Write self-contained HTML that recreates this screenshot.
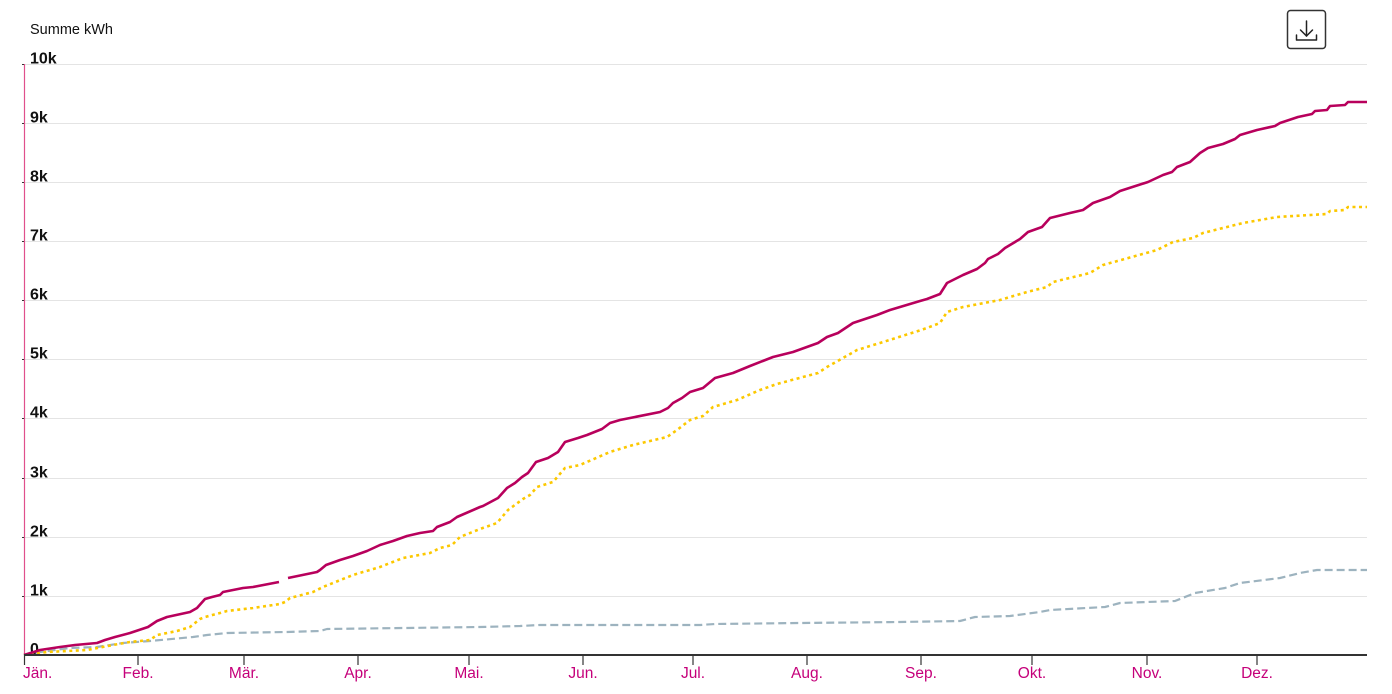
<!DOCTYPE html>
<html>
<head>
<meta charset="utf-8">
<style>
  html,body{margin:0;padding:0;background:#fff;}
  body{width:1392px;height:694px;overflow:hidden;font-family:"Liberation Sans",sans-serif;}
  svg{display:block;}
</style>
</head>
<body>
<svg width="1392" height="694" viewBox="0 0 1392 694" xmlns="http://www.w3.org/2000/svg">
  <!-- title -->
  <text x="30" y="34" font-family="Liberation Sans, sans-serif" font-size="14.5" fill="#111">Summe kWh</text>

  <!-- download button -->
  <rect x="1287.5" y="10.5" width="38" height="38" rx="3" ry="3" fill="#fff" stroke="#333" stroke-width="1.5"/>
  <g fill="none" stroke="#222" stroke-width="1.5" stroke-linecap="round" stroke-linejoin="round">
    <line x1="1306.5" y1="21" x2="1306.5" y2="36"/>
    <polyline points="1300.5,30 1306.5,36 1312.5,30"/>
    <polyline points="1296.5,35 1296.5,40 1316.5,40 1316.5,35"/>
  </g>

  <!-- grid -->
  <g stroke="#e4e4e4" stroke-width="1">
    <line x1="24" y1="64.5" x2="1367" y2="64.5"/>
    <line x1="24" y1="123.5" x2="1367" y2="123.5"/>
    <line x1="24" y1="182.5" x2="1367" y2="182.5"/>
    <line x1="24" y1="241.5" x2="1367" y2="241.5"/>
    <line x1="24" y1="300.5" x2="1367" y2="300.5"/>
    <line x1="24" y1="359.5" x2="1367" y2="359.5"/>
    <line x1="24" y1="418.5" x2="1367" y2="418.5"/>
    <line x1="24" y1="478.5" x2="1367" y2="478.5"/>
    <line x1="24" y1="537.5" x2="1367" y2="537.5"/>
    <line x1="24" y1="596.5" x2="1367" y2="596.5"/>
  </g>

  <!-- y axis -->
  <line x1="24.5" y1="64" x2="24.5" y2="655" stroke="#e0508c" stroke-width="1.2"/>
  <g stroke="#333" stroke-width="1">
    <line x1="22" y1="64.5" x2="24" y2="64.5"/>
    <line x1="22" y1="123.5" x2="24" y2="123.5"/>
    <line x1="22" y1="182.5" x2="24" y2="182.5"/>
    <line x1="22" y1="241.5" x2="24" y2="241.5"/>
    <line x1="22" y1="300.5" x2="24" y2="300.5"/>
    <line x1="22" y1="359.5" x2="24" y2="359.5"/>
    <line x1="22" y1="418.5" x2="24" y2="418.5"/>
    <line x1="22" y1="478.5" x2="24" y2="478.5"/>
    <line x1="22" y1="537.5" x2="24" y2="537.5"/>
    <line x1="22" y1="596.5" x2="24" y2="596.5"/>
  </g>
  <g font-family="Liberation Sans, sans-serif" font-size="16" font-weight="bold" fill="#111">
    <text x="30" y="63.5">10k</text>
    <text x="30" y="122.5">9k</text>
    <text x="30" y="181.5">8k</text>
    <text x="30" y="240.5">7k</text>
    <text x="30" y="299.5">6k</text>
    <text x="30" y="358.5">5k</text>
    <text x="30" y="417.5">4k</text>
    <text x="30" y="477.5">3k</text>
    <text x="30" y="536.5">2k</text>
    <text x="30" y="595.5">1k</text>
    <text x="30" y="654">0</text>
  </g>

  <!-- series: gray dashed -->
  <polyline fill="none" stroke="#9db3bf" stroke-width="2.2" stroke-dasharray="8,4" stroke-linejoin="round"
    points="24,655 40,652 70,648 97,647 123,643 150,641 193,637 207,635 227,633 287,632 320,631 327,629 480,627 520,626 540,625 700,625 715,624 800,623 900,622 960,621 975,617 1010,616 1040,612 1050,610 1105,607 1120,603 1175,601 1195,593 1225,588 1240,583 1280,578 1300,573 1317,570 1367,570"/>

  <!-- series: yellow dotted -->
  <polyline fill="none" stroke="#fcc800" stroke-width="2.6" stroke-dasharray="3,3.5" stroke-linejoin="round"
    points="24,655 47,652 87,650 113,645 130,642 150,640 157,635 177,631 190,627 200,619 205,617 220,613 227,611 253,608 280,604 285,602 290,598 313,592 323,587 353,575 380,567 403,558 430,553 440,548 452,545 460,537 480,529 497,523 508,510 523,499 530,495 537,487 553,482 565,468 580,465 610,452 633,445 667,437 677,430 690,420 703,416 713,407 737,400 760,390 777,384 818,373 827,367 843,358 857,350 880,343 918,331 927,328 940,323 947,312 963,307 1000,300 1027,292 1047,287 1053,282 1090,273 1103,265 1157,250 1173,242 1193,238 1203,233 1227,227 1243,223 1277,217 1327,214 1330,211 1345,210 1348,207 1367,207"/>

  <!-- series: red solid (with gap) -->
  <g fill="none" stroke="#b8005c" stroke-width="2.6" stroke-linejoin="round" stroke-linecap="butt">
    <polyline points="24,655 40,650 60,647 75,645 97,643 105,640 115,637 130,633 148,627 157,621 167,617 190,612 197,608 205,599 212,597 220,595 223,592 243,588 253,587 279,582"/>
    <polyline points="288,578 317,572 320,570 326,565 340,560 353,556 367,551 380,545 393,541 407,536 420,533 433,531 437,527 450,522 457,517 480,507 483,506 498,498 507,488 515,483 522,477 528,473 536,462 548,458 558,452 565,442 578,438 587,435 602,429 610,423 620,420 660,412 668,408 673,403 682,398 690,392 703,388 715,378 733,373 750,366 773,357 793,352 818,343 827,337 838,333 853,323 877,315 890,310 920,301 927,299 940,294 947,283 963,275 977,269 985,263 988,259 998,254 1005,248 1020,239 1028,232 1042,227 1050,218 1070,213 1083,210 1093,203 1110,197 1120,191 1148,182 1163,175 1172,172 1177,167 1190,162 1200,153 1208,148 1223,144 1235,139 1240,135 1257,130 1275,126 1280,123 1298,117 1312,114 1315,111 1327,110 1330,106 1345,105 1348,102 1367,102"/>
  </g>

  <!-- x axis -->
  <line x1="24" y1="655" x2="1367" y2="655" stroke="#333" stroke-width="2"/>
  <g stroke="#333" stroke-width="1.2">
    <line x1="24.5" y1="655" x2="24.5" y2="665"/>
    <line x1="138" y1="655" x2="138" y2="665"/>
    <line x1="244" y1="655" x2="244" y2="665"/>
    <line x1="358" y1="655" x2="358" y2="665"/>
    <line x1="469" y1="655" x2="469" y2="665"/>
    <line x1="583" y1="655" x2="583" y2="665"/>
    <line x1="693" y1="655" x2="693" y2="665"/>
    <line x1="807" y1="655" x2="807" y2="665"/>
    <line x1="921" y1="655" x2="921" y2="665"/>
    <line x1="1032" y1="655" x2="1032" y2="665"/>
    <line x1="1147" y1="655" x2="1147" y2="665"/>
    <line x1="1257" y1="655" x2="1257" y2="665"/>
  </g>
  <g font-family="Liberation Sans, sans-serif" font-size="15.5" fill="#c5007a" text-anchor="middle">
    <text x="23" y="678" text-anchor="start">Jän.</text>
    <text x="138" y="678">Feb.</text>
    <text x="244" y="678">Mär.</text>
    <text x="358" y="678">Apr.</text>
    <text x="469" y="678">Mai.</text>
    <text x="583" y="678">Jun.</text>
    <text x="693" y="678">Jul.</text>
    <text x="807" y="678">Aug.</text>
    <text x="921" y="678">Sep.</text>
    <text x="1032" y="678">Okt.</text>
    <text x="1147" y="678">Nov.</text>
    <text x="1257" y="678">Dez.</text>
  </g>
</svg>
</body>
</html>
